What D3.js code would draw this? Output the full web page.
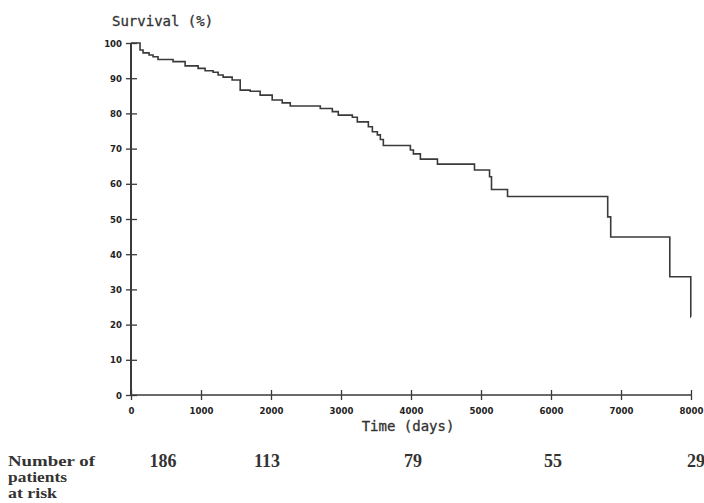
<!DOCTYPE html>
<html>
<head>
<meta charset="utf-8">
<script src="https://cdn.jsdelivr.net/npm/d3@7"></script>
<style>
  body { margin: 0; background: #fff; }
  svg { display: block; }
</style>
</head>
<body>
<div id="chartContainer"></div>
<script>
// step times (days) and survival (%) after each step
const stepTimes = [0, 129, 172, 258, 315, 386, 601, 773, 959, 1059, 1173, 1245, 1316, 1445, 1560, 1702,
  1845, 2017, 2160, 2275, 2704, 2876, 2961, 3162, 3233, 3391, 3448, 3519, 3562, 3605, 3991, 4034,
  4134, 4378, 4907, 5122, 5150, 5379, 6810, 6853, 7697, 7997];
const survival = [100, 98.0, 97.2, 96.6, 96.1, 95.3, 94.7, 93.5, 92.8, 92.1, 91.7, 90.9, 90.3, 89.5, 86.6, 86.3,
  85.2, 83.8, 83.0, 82.1, 81.4, 80.5, 79.5, 78.9, 77.6, 76.2, 74.8, 73.9, 72.6, 70.9, 69.6, 68.5,
  67.0, 65.6, 63.9, 62.0, 58.4, 56.4, 50.6, 44.9, 33.6, 22.2];
const endTime = 8000;

const xTicks = [0, 1000, 2000, 3000, 4000, 5000, 6000, 7000, 8000];
const yTicks = [0, 10, 20, 30, 40, 50, 60, 70, 80, 90, 100];

const riskTimes = [500, 2000, 4000, 6000, 8000];
const riskCounts = [186, 113, 79, 55, 29];
const riskLines = ["Number of", "patients", "at risk"];

const width = 704, height = 503;
const ink = "#3a3a3a";

const svg = d3.select("#chartContainer")
  .append("svg")
  .attr("width", width)
  .attr("height", height);

const x = d3.scaleLinear().domain([0, 8000]).range([131, 691]);
const y = d3.scaleLinear().domain([0, 100]).range([395, 43]);

// axes with crossing ticks
const yAxis = svg.append("g")
  .attr("transform", `translate(${x(0)},0)`)
  .call(d3.axisLeft(y).tickValues(yTicks).tickFormat(d3.format("d")).tickSize(5).tickPadding(4));
yAxis.select(".domain").remove();
yAxis.append("line")
  .attr("y1", y(0)).attr("y2", y(100))
  .attr("stroke", ink).attr("stroke-width", 2);
yAxis.selectAll(".tick line").attr("x2", -5).attr("x1", 6).attr("stroke", ink).attr("stroke-width", 1.3);
yAxis.selectAll(".tick text")
  .attr("fill", "#222")
  .attr("font-family", "'DejaVu Sans Condensed', 'DejaVu Sans', sans-serif")
  .attr("font-weight", "bold")
  .attr("font-size", 9.5);

const xAxis = svg.append("g")
  .attr("transform", `translate(0,${y(0)})`)
  .call(d3.axisBottom(x).tickValues(xTicks).tickFormat(d3.format("d")).tickSize(5).tickPadding(7));
xAxis.select(".domain").remove();
xAxis.append("line")
  .attr("x1", x(0)).attr("x2", x(8000))
  .attr("stroke", ink).attr("stroke-width", 1.6);
xAxis.selectAll(".tick line").attr("y1", -5).attr("y2", 5).attr("stroke", ink).attr("stroke-width", 1.3);
xAxis.selectAll(".tick text")
  .attr("fill", "#222")
  .attr("font-family", "'DejaVu Sans Condensed', 'DejaVu Sans', sans-serif")
  .attr("font-weight", "bold")
  .attr("font-size", 9.5);

// survival curve
const pts = stepTimes.map((t, i) => [t, survival[i]]);
pts.push([endTime, survival[survival.length - 1]]);
const line = d3.line()
  .x(d => x(d[0]))
  .y(d => y(d[1]))
  .curve(d3.curveStepAfter);

svg.append("path")
  .datum(pts)
  .attr("d", line)
  .attr("fill", "none")
  .attr("stroke", ink)
  .attr("stroke-width", 1.6);

// titles
svg.append("text")
  .attr("x", 112)
  .attr("y", 26)
  .attr("font-family", "'DejaVu Sans Mono', monospace")
  .attr("font-size", 14)
  .attr("fill", "#333")
  .attr("stroke", "#333")
  .attr("stroke-width", 0.3)
  .text("Survival (%)");

svg.append("text")
  .attr("x", 408)
  .attr("y", 431)
  .attr("text-anchor", "middle")
  .attr("font-family", "'DejaVu Sans Mono', monospace")
  .attr("font-size", 14)
  .attr("fill", "#333")
  .attr("stroke", "#333")
  .attr("stroke-width", 0.3)
  .text("Time (days)");

// number at risk
const riskWidths = [87, 59, 49];
svg.selectAll(".risklabel")
  .data(riskLines)
  .enter()
  .append("text")
  .attr("class", "risklabel")
  .attr("x", 8)
  .attr("y", (d, i) => 466 + i * 16)
  .attr("font-family", "'Liberation Serif', serif")
  .attr("font-weight", "bold")
  .attr("font-size", 15)
  .attr("fill", "#333")
  .attr("textLength", (d, i) => riskWidths[i])
  .attr("lengthAdjust", "spacingAndGlyphs")
  .text(d => d);

const riskX = d3.scaleOrdinal().domain(riskTimes).range([163, 267, 413, 553, 696]);
svg.selectAll(".risk")
  .data(riskCounts)
  .enter()
  .append("text")
  .attr("class", "risk")
  .attr("x", (d, i) => riskX(riskTimes[i]))
  .attr("y", 467)
  .attr("text-anchor", "middle")
  .attr("font-family", "'Liberation Serif', serif")
  .attr("font-weight", "bold")
  .attr("font-size", 18)
  .attr("fill", "#333")
  .text(d => d);
</script>
</body>
</html>
